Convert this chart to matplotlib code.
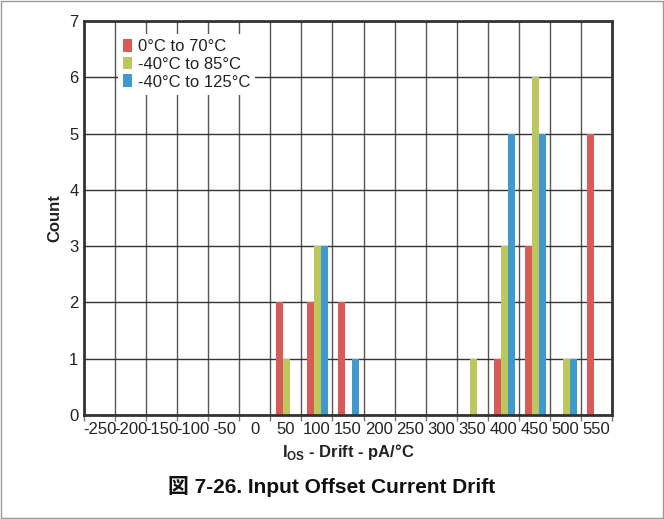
import numpy as np
import matplotlib
matplotlib.use('Agg')
import matplotlib.pyplot as plt
from matplotlib.patches import Rectangle

plt.rcParams['font.family'] = ['Liberation Sans', 'Noto Sans CJK JP', 'DejaVu Sans']
plt.rcParams['mathtext.fontset'] = 'custom'
plt.rcParams['mathtext.rm'] = 'Liberation Sans'
plt.rcParams['mathtext.bf'] = 'Liberation Sans:bold'

# Histogram bins (pA/°C) and counts per temperature range
categories = ['-250', '-200', '-150', '-100', '-50', '0', '50', '100', '150',
              '200', '250', '300', '350', '400', '450', '500', '550']
count_0_70 = [0, 0, 0, 0, 0, 0, 2, 2, 2, 0, 0, 0, 0, 1, 3, 0, 5]
count_m40_85 = [0, 0, 0, 0, 0, 0, 1, 3, 0, 0, 0, 0, 1, 3, 6, 1, 0]
count_m40_125 = [0, 0, 0, 0, 0, 0, 0, 3, 1, 0, 0, 0, 0, 5, 5, 1, 0]

series = [
    ('0°C to 70°C', count_0_70, '#d95b57'),
    ('-40°C to 85°C', count_m40_85, '#bcc75d'),
    ('-40°C to 125°C', count_m40_125, '#3f99cd'),
]

fig = plt.figure(figsize=(6.64, 5.19), dpi=100)
ax = fig.add_axes([0.1265, 0.2004, 0.7952, 0.7591])

x = np.arange(len(categories))
w = 0.225
for i, (label, vals, color) in enumerate(series):
    ax.bar(x + (i - 1) * w + 0.03, vals, width=w, color=color, label=label,
           zorder=3, linewidth=0)

ax.set_xlim(-0.5, len(categories) - 0.5)
ax.set_ylim(0, 7)
ax.set_xticks(x)
ax.set_xticklabels(categories)
ax.set_xticks(np.arange(-0.5, len(categories), 1.0), minor=True)
ax.set_yticks(range(8))

ax.tick_params(axis='both', which='major', length=0, labelsize=12,
               labelcolor='#222222')
ax.tick_params(axis='x', which='major', pad=5)
ax.tick_params(axis='y', which='major', pad=4)
ax.tick_params(axis='x', which='minor', length=4, color='#777777', width=1)

ax.grid(True, axis='x', which='minor', color='#555555', linewidth=1, zorder=1)
ax.grid(True, axis='y', which='major', color='#333333', linewidth=1, zorder=1)
ax.set_axisbelow(True)

for s in ax.spines.values():
    s.set_linewidth(2)
    s.set_color('#333333')
    s.set_zorder(4)

ax.set_xlabel(r'$\mathbf{I}_{\mathbf{OS}}$ - Drift - pA/°C', fontsize=12,
              fontweight='bold', color='#222222', labelpad=4)
ax.set_ylabel('Count', fontsize=12, fontweight='bold', color='#222222',
              labelpad=5)

leg = ax.legend(loc='upper left', bbox_to_anchor=(0.048, 0.988), fontsize=12,
                frameon=True, fancybox=False, edgecolor='none',
                facecolor='white', framealpha=1, handlelength=0.55,
                handleheight=0.8, handletextpad=0.35, labelspacing=0.15,
                borderpad=0.3)
leg.set_zorder(5)
for t in leg.get_texts():
    t.set_color('#222222')

fig.text(0.5, 0.062, '図 7-26. Input Offset Current Drift', ha='center',
         va='center', fontsize=15, fontweight='bold', color='#111111')

fig.patches.append(Rectangle((0.002, 0.002), 0.996, 0.996,
                             transform=fig.transFigure, fill=False,
                             edgecolor='#999999', linewidth=1))

plt.savefig('out.png', dpi=100)
